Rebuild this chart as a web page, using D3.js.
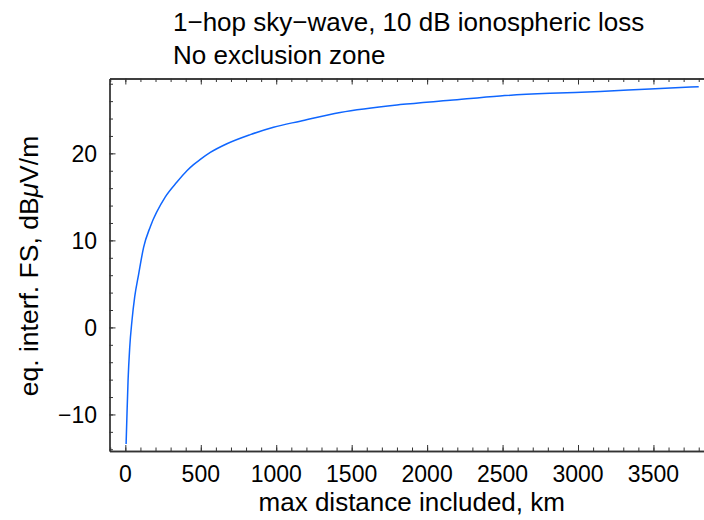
<!DOCTYPE html>
<html>
<head>
<meta charset="utf-8">
<script src="https://cdn.jsdelivr.net/npm/d3@7"></script>
<style>
  body { margin: 0; background: #fff; }
  svg text { font-family: "Liberation Sans", Arial, sans-serif; fill: #000; }
  .axis path { stroke: #333; stroke-width: 1.3; }
  .axis line { stroke: #333; stroke-width: 1; }
</style>
</head>
<body>
<div id="chart"></div>
<script>
// Values.
var distanceKm = [5, 11, 18, 29, 44, 62, 88, 121, 166, 265, 342, 408, 452, 497, 563, 673, 828, 982, 1159, 1424, 1821, 2152, 2483, 2815, 3146, 3477, 3800];
var fieldDb = [-13.4, -9.9, -6.1, -2.3, 0.8, 3.5, 6.1, 9.2, 11.6, 15.0, 16.7, 18.0, 18.7, 19.3, 20.1, 21.1, 22.15, 23.0, 23.7, 24.7, 25.6, 26.1, 26.6, 26.9, 27.1, 27.4, 27.65];

var xMajor = [0, 500, 1000, 1500, 2000, 2500, 3000, 3500];
var xMinor = d3.range(-100, 3900, 100);
var yMajor = [-10, 0, 10, 20];
var yMinor = d3.range(-14, 30, 2);

var titleLines = ["1\u2212hop sky\u2212wave, 10 dB ionospheric loss", "No exclusion zone"];

var data = distanceKm.map(function(d, i) { return { km: d, db: fieldDb[i] }; });

var svgWidth = 704, svgHeight = 520;
var plot = { left: 109.5, right: 704, top: 78.5, bottom: 451 };

var svg = d3.select("#chart").append("svg")
  .attr("width", svgWidth)
  .attr("height", svgHeight);

var xScale = d3.scaleLinear()
  .domain([-105, 3835])
  .range([plot.left, plot.right]);

var yScale = d3.scaleLinear()
  .domain([-14.2, 28.6])
  .range([plot.bottom, plot.top]);

// Frame with ticks pointing inward, Mathematica style.
function addAxis(axisFn, values, size, transform) {
  return svg.append("g")
    .attr("class", "axis")
    .attr("transform", transform)
    .call(axisFn.tickValues(values).tickSizeInner(size).tickSizeOuter(0).tickFormat(""));
}

// minor ticks
addAxis(d3.axisBottom(xScale), xMinor, -3.5, "translate(0," + plot.bottom + ")");
addAxis(d3.axisTop(xScale), xMinor, -3.5, "translate(0," + plot.top + ")");
addAxis(d3.axisLeft(yScale), yMinor, -3.5, "translate(" + plot.left + ",0)");

// major ticks
addAxis(d3.axisBottom(xScale), xMajor, -6, "translate(0," + plot.bottom + ")");
addAxis(d3.axisTop(xScale), xMajor, -6, "translate(0," + plot.top + ")");
addAxis(d3.axisLeft(yScale), yMajor, -6, "translate(" + plot.left + ",0)");

// tick labels
svg.append("g").selectAll("text")
  .data(xMajor)
  .enter().append("text")
  .attr("x", function(d) { return xScale(d); })
  .attr("y", 482)
  .attr("text-anchor", "middle")
  .style("font-size", "23px")
  .text(function(d) { return d; });

svg.append("g").selectAll("text")
  .data(yMajor)
  .enter().append("text")
  .attr("x", 97)
  .attr("y", function(d) { return yScale(d); })
  .attr("dy", "0.36em")
  .attr("text-anchor", "end")
  .style("font-size", "23px")
  .text(function(d) { return d < 0 ? "\u2212" + Math.abs(d) : d; });

// the curve
var line = d3.line()
  .x(function(d) { return xScale(d.km); })
  .y(function(d) { return yScale(d.db); })
  .curve(d3.curveMonotoneX);

svg.append("path")
  .datum(data)
  .attr("fill", "none")
  .attr("stroke", "#0f66ff")
  .attr("stroke-width", 1.5)
  .attr("d", line);

// titles
svg.append("g").selectAll("text")
  .data(titleLines)
  .enter().append("text")
  .attr("x", 173)
  .attr("y", function(d, i) { return 31 + i * 33; })
  .style("font-size", "26px")
  .text(function(d) { return d; });

svg.append("text")
  .attr("x", (plot.left + plot.right) / 2 + 5)
  .attr("y", 510.5)
  .attr("text-anchor", "middle")
  .style("font-size", "26px")
  .text("max distance included, km");

var yTitle = svg.append("text")
  .attr("transform", "translate(38," + 266 + ") rotate(-90)")
  .attr("text-anchor", "middle")
  .style("font-size", "26.5px");
yTitle.append("tspan").text("eq. interf. FS, dB");
yTitle.append("tspan").style("font-style", "italic").text("\u03bc");
yTitle.append("tspan").text("V/m");
</script>
</body>
</html>
